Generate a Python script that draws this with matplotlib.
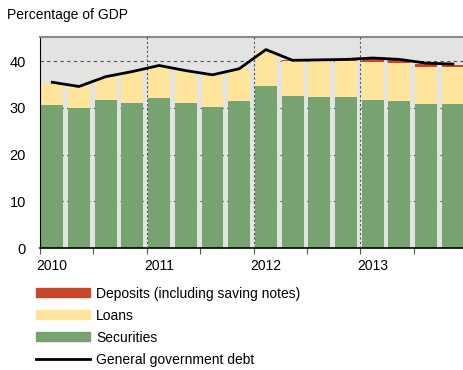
import numpy as np
import matplotlib
matplotlib.use("Agg")
import matplotlib.pyplot as plt
from matplotlib.patches import Patch
from matplotlib.lines import Line2D

plt.rcParams['font.family'] = ['Liberation Sans', 'DejaVu Sans']

# quarterly data, 2010Q1 - 2013Q4 (percentage of GDP)
quarters = np.arange(16)
securities = [30.6, 29.9, 31.6, 31.0, 32.2, 31.1, 30.1, 31.4,
              34.8, 32.6, 32.4, 32.4, 31.8, 31.4, 30.8, 30.8]
loans = [4.8, 4.7, 5.0, 6.9, 6.7, 6.8, 7.0, 7.0,
         7.6, 7.5, 7.7, 7.6, 8.1, 8.2, 8.0, 7.9]
deposits = [0.0, 0.0, 0.0, 0.0, 0.0, 0.0, 0.0, 0.0,
            0.0, 0.1, 0.1, 0.2, 0.5, 0.6, 0.7, 0.6]
debt = [35.5, 34.6, 36.7, 37.8, 39.1, 38.0, 37.1, 38.4,
        42.5, 40.2, 40.3, 40.4, 40.7, 40.4, 39.6, 39.4]
year_labels = ['2010', '2011', '2012', '2013']

c_sec = '#76a36f'
c_loan = '#fee59b'
c_dep = '#c9462a'
c_bg = '#e1e4e1'

fig = plt.figure(figsize=(4.63, 3.70), dpi=100)
ax = fig.add_axes([40/463, 1-248/370, 1-40/463, (248-37)/370])
ax.set_facecolor(c_bg)

off = 0.05
w = 0.82
sec = np.array(securities)
ln = np.array(loans)
ax.bar(quarters + off, sec, width=w, align='edge', color=c_sec, zorder=2)
ax.bar(quarters + off, ln, width=w, bottom=sec, align='edge', color=c_loan, zorder=2)
ax.bar(quarters + off, deposits, width=w, bottom=sec + ln, align='edge', color=c_dep, zorder=2)
ax.plot(quarters + off + w/2, debt, color='black', lw=2.0, zorder=4)

ax.set_xlim(0, 15.84)
ax.set_ylim(0, 45.2)

# grid
for yv in [10, 20, 30, 40]:
    ax.axhline(yv, color='#555555', lw=0.8, ls=(0, (3, 3)), zorder=1)
for xv in [4, 8, 12]:
    ax.axvline(xv, color='#555555', lw=0.8, ls=(0, (2, 2)), zorder=3)

ax.set_yticks([0, 10, 20, 30, 40])
ax.tick_params(axis='y', length=0, labelsize=10.5, pad=10)
ax.set_xticks([0, 2, 4, 6, 8, 10, 12, 14])
ax.set_xticklabels([])
ax.tick_params(axis='x', which='major', length=4, width=0.8, color='#555555')
ax.set_xticks([0.45, 4.45, 8.45, 12.45], minor=True)
ax.set_xticklabels(year_labels, minor=True)
ax.tick_params(axis='x', which='minor', length=0, labelsize=10, pad=8)

ax.spines['right'].set_visible(False)
ax.spines['top'].set_color('#8c8c8c')
ax.spines['top'].set_linewidth(1.5)
ax.spines['left'].set_color('black')
ax.spines['bottom'].set_color('black')
ax.spines['bottom'].set_linewidth(1.2)

fig.text(7/463, 1-15/370, 'Percentage of GDP', fontsize=10, va='center', ha='left')

handles = [Patch(color=c_dep), Patch(color=c_loan), Patch(color=c_sec),
           Line2D([0], [0], color='black', lw=2.0)]
labels = ['Deposits (including saving notes)', 'Loans', 'Securities',
          'General government debt']
fig.legend(handles, labels, loc='upper left', bbox_to_anchor=(30/463, 1-281/370),
           frameon=False, fontsize=10, handlelength=3.9, handleheight=0.6,
           labelspacing=0.58, handletextpad=0.45, borderaxespad=0)

fig.savefig('out.png', dpi=100)
